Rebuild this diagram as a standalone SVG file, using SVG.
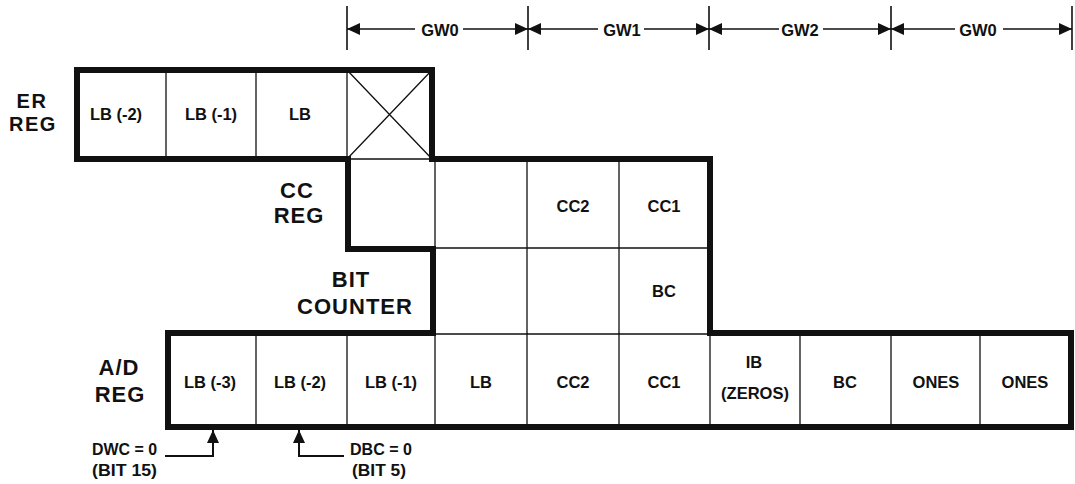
<svg xmlns="http://www.w3.org/2000/svg" width="1075" height="484" viewBox="0 0 1075 484">
<style>
  .thick{fill:none;stroke:#111;stroke-width:6;stroke-linejoin:miter}
  .thin{fill:none;stroke:#111;stroke-width:1.3}
  .dim{fill:none;stroke:#111;stroke-width:1.6}
  .ann{fill:none;stroke:#111;stroke-width:2}
  .cell{font-family:"Liberation Sans",Arial,sans-serif;font-weight:bold;font-size:16.5px;fill:#111;text-anchor:middle}
  .lbl{font-family:"Liberation Sans",Arial,sans-serif;font-weight:bold;font-size:22px;letter-spacing:1px;fill:#111;text-anchor:middle}
  .lbl2{font-family:"Liberation Sans",Arial,sans-serif;font-weight:bold;font-size:20px;letter-spacing:1.5px;fill:#111;text-anchor:middle}
  .note{font-family:"Liberation Sans",Arial,sans-serif;font-weight:bold;font-size:17px;fill:#111}
</style>
<defs>
  <marker id="ah" markerUnits="userSpaceOnUse" markerWidth="13" markerHeight="12" refX="13" refY="6" orient="auto">
    <path d="M0,0 L13,6 L0,12 z" fill="#111"/>
  </marker>
</defs>
<rect width="1075" height="484" fill="#fff"/>

<g id="er-reg">
  <path class="thin" d="M166,70 V159 M256,70 V159 M347,70 V159 M347,159 H432 M347,70 L432,159 M432,70 L347,159"/>
  <text class="lbl2" x="32" y="108">ER</text>
  <text class="lbl2" x="33" y="131">REG</text>
  <text class="cell" x="116" y="120">LB (-2)</text>
  <text class="cell" x="211" y="120">LB (-1)</text>
  <text class="cell" x="300" y="120">LB</text>
</g>

<g id="cc-reg">
  <path class="thin" d="M435,159 V249 M527,159 V249 M619,159 V249 M433,248 H710"/>
  <text class="lbl" x="297" y="198">CC</text>
  <text class="lbl" x="299" y="223">REG</text>
  <text class="cell" x="573" y="212">CC2</text>
  <text class="cell" x="664" y="212">CC1</text>
</g>

<g id="bit-counter">
  <path class="thin" d="M527,249 V334 M619,249 V334 M433,334 H710"/>
  <text class="lbl" x="351" y="287">BIT</text>
  <text class="lbl" x="355" y="314">COUNTER</text>
  <text class="cell" x="664" y="297">BC</text>
</g>

<g id="ad-reg">
  <path class="thin" d="M256,333 V427 M347,333 V427 M435,333 V427 M527,333 V427 M619,333 V427 M710,333 V427 M800,333 V427 M891,333 V427 M980,333 V427"/>
  <text class="lbl" x="119" y="375">A/D</text>
  <text class="lbl" x="120" y="402">REG</text>
  <text class="cell" x="210" y="388">LB (-3)</text>
  <text class="cell" x="300" y="388">LB (-2)</text>
  <text class="cell" x="391" y="388">LB (-1)</text>
  <text class="cell" x="481" y="388">LB</text>
  <text class="cell" x="573" y="388">CC2</text>
  <text class="cell" x="664" y="388">CC1</text>
  <text class="cell" x="754" y="368">IB</text>
  <text class="cell" x="755" y="399">(ZEROS)</text>
  <text class="cell" x="845" y="388">BC</text>
  <text class="cell" x="936" y="388">ONES</text>
  <text class="cell" x="1025" y="388">ONES</text>
</g>

<g id="outline">
  <path class="thick" d="M77,70 H432 V159 H710 V333 H1071 V427 H168 V333 H433 V249 H348 V159 H77 Z"/>
</g>

<g id="dimension">
  <path class="dim" d="M347,6 V50 M528,6 V50 M709,6 V50 M891,6 V50 M1072,6 V50"/>
  <text class="cell" x="440" y="35.5">GW0</text>
  <text class="cell" x="622" y="35.5">GW1</text>
  <text class="cell" x="800" y="35.5">GW2</text>
  <text class="cell" x="978" y="35.5">GW0</text>
</g>

<g id="connectors">
  <line class="dim" x1="415" y1="29" x2="347" y2="29" marker-end="url(#ah)"/>
  <line class="dim" x1="463" y1="29" x2="528" y2="29" marker-end="url(#ah)"/>
  <line class="dim" x1="598" y1="29" x2="528" y2="29" marker-end="url(#ah)"/>
  <line class="dim" x1="644" y1="29" x2="709" y2="29" marker-end="url(#ah)"/>
  <line class="dim" x1="779" y1="29" x2="709" y2="29" marker-end="url(#ah)"/>
  <line class="dim" x1="823" y1="29" x2="891" y2="29" marker-end="url(#ah)"/>
  <line class="dim" x1="955" y1="29" x2="891" y2="29" marker-end="url(#ah)"/>
  <line class="dim" x1="1003" y1="29" x2="1072" y2="29" marker-end="url(#ah)"/>
  <path class="ann" d="M165,456 H213 V430" marker-end="url(#ah)"/>
  <path class="ann" d="M344,456 H299 V430" marker-end="url(#ah)"/>
</g>

<g id="annotations">
  <text class="note" x="92" y="455" textLength="65" lengthAdjust="spacingAndGlyphs">DWC = 0</text>
  <text class="note" x="92" y="476" textLength="65" lengthAdjust="spacingAndGlyphs">(BIT 15)</text>
  <text class="note" x="350" y="455" textLength="62" lengthAdjust="spacingAndGlyphs">DBC = 0</text>
  <text class="note" x="352" y="476" textLength="54" lengthAdjust="spacingAndGlyphs">(BIT 5)</text>
</g>
</svg>
